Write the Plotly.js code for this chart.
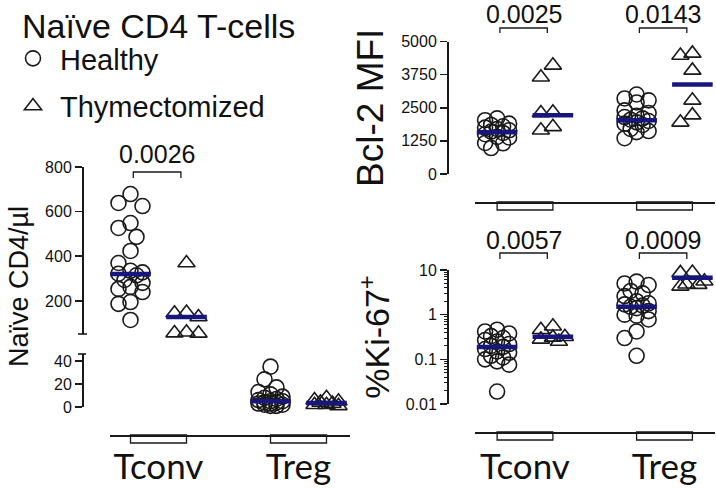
<!DOCTYPE html>
<html><head><meta charset="utf-8">
<script src="https://cdn.plot.ly/plotly-3.0.1.min.js"></script>
<style>html,body{margin:0;padding:0;background:#fff}#chart{width:716px;height:488px}</style>
</head><body><div id="chart"></div>
<script>
// ---------------- data ----------------
const categories = ['Tconv', 'Treg'];
const groups = ['Healthy', 'Thymectomized'];
const legendTitle = 'Naïve CD4 T-cells';

// Naïve CD4/µl
const countHealthyTconv = [679, 639, 625, 549, 527, 487, 424, 370, 335, 328, 322, 315, 294, 281, 263, 254, 240, 195, 187, 115];
const countThymTconv = [370, 148, 145, 128, 60, 56, 55];
const countHealthyTreg = [35, 24, 17, 13, 11, 9, 8, 7, 6, 5, 5, 4, 4, 3, 3, 2, 2, 1, 1];
const countThymTreg = [8, 6, 5, 4, 3, 2, 2, 1];
const countMedianHealthy = [321, 5];
const countMedianThym = [128, 3.5];
const countP = ['0.0026'];
const countTicksUpper = [200, 400, 600, 800];
const countTicksLower = [0, 20, 40];

// Bcl-2 MFI
const bclHealthyTconv = [2100, 2030, 1900, 1850, 1800, 1750, 1700, 1650, 1600, 1550, 1500, 1400, 1380, 1170, 1160, 980];
const bclThymTconv = [4100, 3650, 2330, 2300, 1780, 1650];
const bclHealthyTreg = [3000, 2850, 2780, 2700, 2400, 2300, 2200, 2150, 2100, 2050, 2000, 1950, 1900, 1850, 1700, 1620, 1580, 1350];
const bclThymTreg = [4550, 4470, 3910, 2780, 2220, 1950];
const bclMedianHealthy = [1580, 2030];
const bclMedianThym = [2220, 3380];
const bclP = ['0.0025', '0.0143'];
const bclTicks = [0, 1250, 2500, 3750, 5000];

// %Ki-67+
const kiHealthyTconv = [0.46, 0.42, 0.38, 0.33, 0.3, 0.27, 0.25, 0.22, 0.2, 0.19, 0.17, 0.15, 0.14, 0.12, 0.11, 0.1, 0.09, 0.076, 0.019];
const kiThymTconv = [0.55, 0.46, 0.32, 0.31, 0.28, 0.25];
const kiHealthyTreg = [5.5, 5.0, 4.6, 3.4, 3.0, 2.6, 2.0, 1.8, 1.7, 1.6, 1.5, 1.4, 1.2, 1.0, 0.95, 0.78, 0.42, 0.3, 0.12];
const kiThymTreg = [8.8, 8.6, 5.6, 4.8, 4.7, 4.3];
const kiMedianHealthy = [0.19, 1.5];
const kiMedianThym = [0.32, 6.7];
const kiP = ['0.0057', '0.0009'];
const kiTicks = [0.01, 0.1, 1, 10];
const kiTickLabels = ['0.01', '0.1', '1', '10'];

// ---------------- layout geometry (pixels) ----------------
const W = 716, H = 488;
const px = x => x / W;
const py = y => 1 - y / H;
const INK = '#1a1a1a';
const MEDIAN = '#16167e';
const FONT = 'Liberation Sans, Arial, Helvetica, sans-serif';
const CATFONT = 'Lato, Open Sans, sans-serif';
const groupShift = [-0.2, 0.2];

const xGeom = {
  left: {d0: 110, d1: 350, c0: 158.5, unit: 140},
  right: {d0: 475, d1: 715, c0: 525, unit: 139.5}
};
function xRange(g) { return [(g.d0 - g.c0) / g.unit, (g.d1 - g.c0) / g.unit]; }

const yGeom = {
  y:  {top: 167, bot: 334, r: [52, 800], log: false},
  y2: {top: 354, bot: 407, r: [0, 46], log: false},
  y3: {top: 41.5, bot: 174, r: [0, 5000], log: false},
  y4: {top: 270, bot: 404, r: [-2, 1], log: true}
};
function yPx(key) {
  const g = yGeom[key];
  return v => {
    const t = g.log ? Math.log10(v) : v;
    return g.top + (g.r[1] - t) / (g.r[1] - g.r[0]) * (g.bot - g.top);
  };
}

// simple beeswarm: offsets in px, computed from the values
function swarm(vals, toPx, step, maxOff, minD) {
  const idx = vals.map((v, i) => i).sort((a, b) => vals[b] - vals[a]);
  const cands = [0];
  for (let k = step; k <= maxOff + 1e-9; k += step) cands.push(-k, k);
  const placed = [], off = new Array(vals.length);
  idx.forEach(i => {
    const y = toPx(vals[i]);
    let best = 0, bestD = -1;
    for (const c of cands) {
      let d = Infinity;
      for (const p of placed) d = Math.min(d, Math.hypot(c - p[0], y - p[1]));
      if (d >= minD) { best = c; bestD = d; break; }
      if (d > bestD + 0.01) { bestD = d; best = c; }
    }
    placed.push([best, y]);
    off[i] = best;
  });
  return off;
}

const traces = [];
const legendShown = {};
function addPoints(vals, cat, grp, xa, ya, unit) {
  const offs = swarm(vals, yPx(ya), 6, 12, 14);
  const show = !legendShown[grp];
  legendShown[grp] = true;
  traces.push({
    type: 'scatter', mode: 'markers',
    x: vals.map((v, i) => cat + groupShift[grp] + offs[i] / unit),
    y: vals,
    xaxis: xa, yaxis: ya, cliponaxis: false,
    name: groups[grp], legendgroup: groups[grp], showlegend: show,
    hoverinfo: 'skip',
    marker: {symbol: grp === 0 ? 'circle-open' : 'triangle-up-open', size: 15, color: INK, line: {width: 1.6, color: INK}}
  });
}
function addMedians(mH, mT, cats, xa, ya) {
  const xs = [], ys = [];
  cats.forEach(c => {
    xs.push(c + groupShift[0], c + groupShift[1]);
    ys.push(mH[c], mT[c]);
  });
  traces.push({
    type: 'scatter', mode: 'markers', x: xs, y: ys, xaxis: xa, yaxis: ya,
    cliponaxis: false, showlegend: false, hoverinfo: 'skip',
    marker: {symbol: 'line-ew', size: 29, color: MEDIAN, line: {width: 4.5, color: MEDIAN}}
  });
}

addPoints(countHealthyTconv, 0, 0, 'x', 'y', xGeom.left.unit);
addPoints(countThymTconv, 0, 1, 'x', 'y', xGeom.left.unit);
addPoints(countHealthyTreg, 1, 0, 'x', 'y2', xGeom.left.unit);
addPoints(countThymTreg, 1, 1, 'x', 'y2', xGeom.left.unit);
addMedians(countMedianHealthy, countMedianThym, [0], 'x', 'y');
addMedians(countMedianHealthy, countMedianThym, [1], 'x', 'y2');

addPoints(bclHealthyTconv, 0, 0, 'x2', 'y3', xGeom.right.unit);
addPoints(bclThymTconv, 0, 1, 'x2', 'y3', xGeom.right.unit);
addPoints(bclHealthyTreg, 1, 0, 'x2', 'y3', xGeom.right.unit);
addPoints(bclThymTreg, 1, 1, 'x2', 'y3', xGeom.right.unit);
addMedians(bclMedianHealthy, bclMedianThym, [0, 1], 'x2', 'y3');

addPoints(kiHealthyTconv, 0, 0, 'x3', 'y4', xGeom.right.unit);
addPoints(kiThymTconv, 0, 1, 'x3', 'y4', xGeom.right.unit);
addPoints(kiHealthyTreg, 1, 0, 'x3', 'y4', xGeom.right.unit);
addPoints(kiThymTreg, 1, 1, 'x3', 'y4', xGeom.right.unit);
addMedians(kiMedianHealthy, kiMedianThym, [0, 1], 'x3', 'y4');

// ---------------- axes ----------------
const baseAx = {
  showgrid: false, zeroline: false, showline: true, linecolor: INK, linewidth: 1.6,
  fixedrange: true, automargin: false
};
function yAx(key, xpos, extra) {
  const g = yGeom[key];
  return Object.assign({}, baseAx, {
    domain: [py(g.bot), py(g.top)], range: g.r, anchor: 'free', position: px(xpos),
    ticks: 'outside', ticklen: 7, tickwidth: 1.6, tickcolor: INK,
    tickfont: {size: 16, family: FONT, color: '#111'}, tickmode: 'array'
  }, extra);
}
function xAx(g, ypos, labels, standoff) {
  return Object.assign({}, baseAx, {
    domain: [px(g.d0), px(g.d1)], range: xRange(g), anchor: 'free', position: py(ypos),
    ticks: '', tickmode: 'array', tickvals: categories.map((c, i) => i), ticktext: categories,
    showticklabels: labels, ticklabelstandoff: standoff,
    tickfont: {size: 35, family: CATFONT, color: '#111'}
  });
}

const layout = {
  width: W, height: H, margin: {l: 0, r: 0, t: 0, b: 0, autoexpand: false},
  paper_bgcolor: '#fff', plot_bgcolor: 'rgba(0,0,0,0)',
  font: {family: FONT, color: '#111'},
  showlegend: true,
  legend: {
    x: px(6), y: py(33), xanchor: 'left', yanchor: 'top', bgcolor: 'rgba(0,0,0,0)',
    font: {size: 29, family: FONT, color: '#111'}, tracegroupgap: 7, itemwidth: 44
  },
  xaxis: xAx(xGeom.left, 435, true, 0),
  xaxis2: xAx(xGeom.right, 202, false, 0),
  xaxis3: xAx(xGeom.right, 432, true, 3),
  yaxis: yAx('y', 82, {tickvals: countTicksUpper}),
  yaxis2: yAx('y2', 82, {tickvals: countTicksLower}),
  yaxis3: yAx('y3', 447, {tickvals: bclTicks,
    title: {text: 'Bcl-2 MFI', font: {size: 37, family: FONT, color: '#111'}, standoff: 4}}),
  yaxis4: yAx('y4', 447, {type: 'log', tickvals: kiTicks, ticktext: kiTickLabels,
    minor: {ticks: 'outside', ticklen: 3.5, tickwidth: 1, tickcolor: INK, dtick: 'D1', showgrid: false},
    title: {text: '%Ki-67<sup>+</sup>', font: {size: 34, family: FONT, color: '#111'}, standoff: 4}}),
  shapes: [],
  annotations: [{
    text: 'Naïve CD4/µl', textangle: -90, xref: 'paper', yref: 'paper',
    x: px(19), y: py(287), xanchor: 'center', yanchor: 'middle', showarrow: false,
    font: {size: 27, family: FONT, color: '#111'}
  }, {
    text: legendTitle, xref: 'paper', yref: 'paper',
    x: px(20), y: py(26), xanchor: 'left', yanchor: 'middle', showarrow: false,
    font: {size: 34, family: FONT, color: '#111'}
  }]
};

[['x', 435], ['x2', 202], ['x3', 432]].forEach(([xa, yAxisPx]) => {
  categories.forEach((c, i) => {
    layout.shapes.push({type: 'rect', xref: xa, yref: 'paper',
      x0: i + groupShift[0], x1: i + groupShift[1], y0: py(yAxisPx + 8), y1: py(yAxisPx),
      line: {color: INK, width: 1.3}, fillcolor: 'rgba(0,0,0,0)'});
  });
});

function bracket(xa, cat, p, textY, topY, botY) {
  const x0 = cat - 0.18, x1 = cat + 0.16;
  layout.shapes.push({type: 'path', xref: xa, yref: 'paper',
    path: `M${x0},${py(botY)} L${x0},${py(topY)} L${x1},${py(topY)} L${x1},${py(botY)}`,
    line: {color: INK, width: 1.3}});
  layout.annotations.push({text: p, xref: xa, yref: 'paper', x: (x0 + x1) / 2, y: py(textY),
    xanchor: 'center', yanchor: 'middle', showarrow: false,
    font: {size: 25, family: FONT, color: '#111'}});
}
countP.forEach((p, i) => bracket('x', i, p, 154, 172, 178));
bclP.forEach((p, i) => bracket('x2', i, p, 14, 28, 33));
kiP.forEach((p, i) => bracket('x3', i, p, 240, 253, 259));

[[334, 78, 87], [354, 78, 86]].forEach(([yy, a, b]) => {
  layout.shapes.push({type: 'line', xref: 'paper', yref: 'paper',
    x0: px(a), x1: px(b), y0: py(yy), y1: py(yy), line: {color: INK, width: 1.6}});
});

Plotly.newPlot('chart', traces, layout, {staticPlot: true, displayModeBar: false});
</script>
</body></html>
